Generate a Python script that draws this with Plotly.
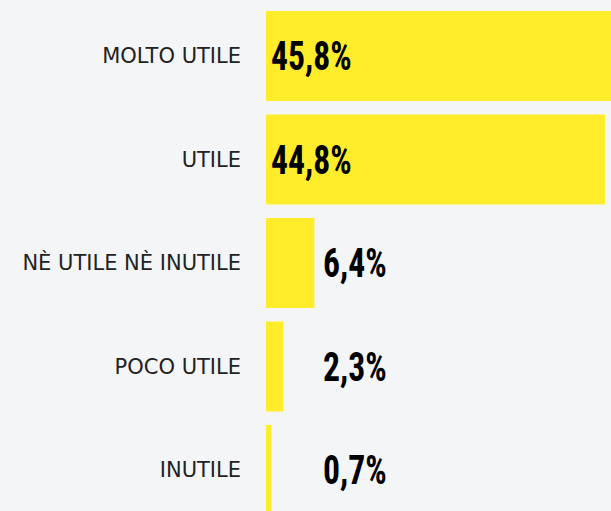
import plotly.graph_objects as go

categories = ["MOLTO UTILE", "UTILE", "NÈ UTILE NÈ INUTILE", "POCO UTILE", "INUTILE"]
values = [45.8, 44.8, 6.4, 2.3, 0.7]
labels = ["45,8%", "44,8%", "6,4%", "2,3%", "0,7%"]

BG = "#F4F5F7"
BAR = "#FFED2B"

fig = go.Figure()
fig.add_trace(go.Bar(
    x=values, y=categories, orientation="h",
    marker=dict(color=BAR, line=dict(width=0)),
    hoverinfo="skip",
))

for cat, v, lab in zip(categories, values, labels):
    inside = v > 20
    fig.add_annotation(
        x=0.35 if inside else 7.3, y=cat, xref="x", yref="y",
        text=lab, showarrow=False, xanchor="left", yanchor="middle",
        font=dict(family="Roboto Condensed", size=41, color="#000000", weight="bold"),
    )

fig.update_layout(
    width=611, height=511,
    margin=dict(l=266, r=0, t=0, b=0),
    paper_bgcolor=BG, plot_bgcolor=BG,
    bargap=0.13,
    showlegend=False,
    xaxis=dict(range=[0, 45.6], visible=False, fixedrange=True),
    yaxis=dict(
        type="category", range=[4.396, -0.541],
        showgrid=False, zeroline=False, showline=False, ticks="",
        ticklabelstandoff=24, fixedrange=True,
        tickfont=dict(family="DejaVu Sans", size=21, color="#222222"),
    ),
)

post = (
    "document.body.style.margin='0';"
    "var s=document.createElement('style');"
    "s.textContent='.annotation-text{transform-box:fill-box;transform-origin:0 50%;transform:scaleX(0.82);}';"
    "document.head.appendChild(s);"
)
fig.write_html("out.html", config=dict(displayModeBar=False), post_script=post)
